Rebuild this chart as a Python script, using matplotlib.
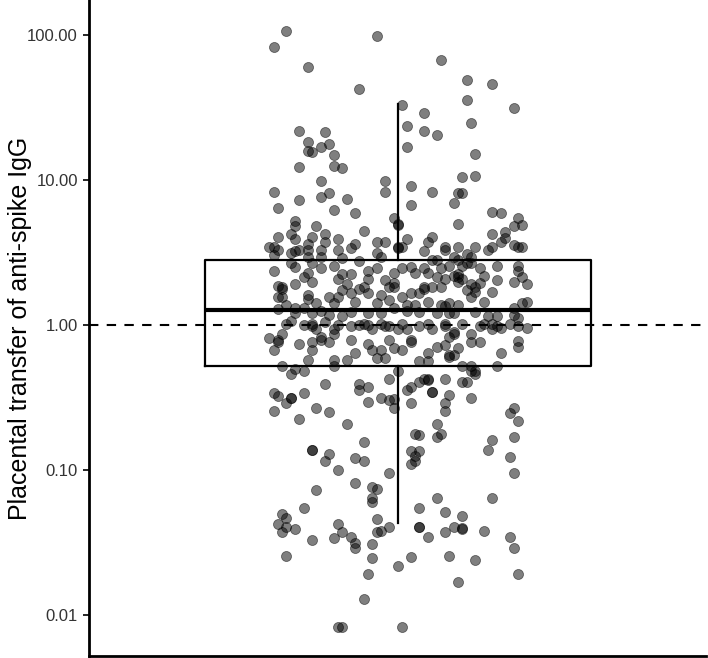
import numpy as np
import matplotlib
matplotlib.use("Agg")
import matplotlib.pyplot as plt

plt.rcParams['font.family'] = ['Liberation Sans', 'DejaVu Sans']

# each point: (horizontal jitter offset, log10 of placental transfer ratio)
# values, grouped by region of the plot
upper = [
    (-0.26, 2.03), (-0.29, 1.92), (-0.21, 1.78), (-0.05, 1.99), (-0.09, 1.63), (0.01, 1.52), (0.06, 1.46),
    (0.02, 1.37), (0.06, 1.34), (0.02, 1.23), (-0.23, 1.34), (-0.17, 1.33), (-0.21, 1.26), (-0.21, 1.20),
    (-0.20, 1.19), (-0.18, 1.23), (-0.16, 1.25), (-0.15, 1.17), (-0.23, 1.09), (-0.15, 1.10), (-0.13, 1.08),
    (-0.18, 0.99), (-0.29, 0.92), (-0.16, 0.91), (-0.18, 0.88), (-0.23, 0.86), (-0.12, 0.87), (-0.03, 0.99),
    (-0.03, 0.92), (0.03, 0.96), (0.08, 0.92), (0.10, 1.83), (0.16, 1.69), (0.22, 1.66), (0.16, 1.55),
    (0.27, 1.50), (0.17, 1.39), (0.09, 1.31), (0.18, 1.18), (0.15, 1.02), (0.18, 1.03), (0.14, 0.91),
    (0.15, 0.91),
]

middle_left = [
    (-0.28, 0.81), (-0.15, 0.79), (-0.10, 0.77), (-0.24, 0.72), (-0.24, 0.68), (-0.25, 0.63), (-0.24, 0.59),
    (-0.28, 0.61), (-0.19, 0.68), (-0.20, 0.61), (-0.17, 0.63), (-0.08, 0.65), (-0.14, 0.59), (-0.17, 0.57),
    (-0.21, 0.56), (-0.24, 0.51), (-0.25, 0.50), (-0.29, 0.54), (-0.30, 0.54), (-0.28, 0.52), (-0.29, 0.48),
    (-0.23, 0.52), (-0.21, 0.52), (-0.18, 0.52), (-0.14, 0.52), (-0.11, 0.53), (-0.10, 0.56), (-0.05, 0.57),
    (-0.03, 0.57), (-0.05, 0.50), (-0.04, 0.47), (-0.01, 0.74), (0.00, 0.69), (0.00, 0.54), (-0.21, 0.47),
    (-0.18, 0.47), (-0.25, 0.43), (-0.24, 0.40), (-0.20, 0.43), (-0.15, 0.41), (-0.13, 0.46), (-0.09, 0.44),
    (-0.29, 0.37), (-0.22, 0.33), (-0.21, 0.36), (-0.18, 0.39), (-0.20, 0.30), (-0.14, 0.32), (-0.13, 0.35),
    (-0.11, 0.35), (-0.07, 0.37), (-0.05, 0.39), (-0.01, 0.36), (-0.03, 0.31), (-0.07, 0.32), (-0.28, 0.27),
    (-0.27, 0.26), (-0.27, 0.25), (-0.24, 0.28), (-0.28, 0.19), (-0.27, 0.19), (-0.21, 0.21), (-0.21, 0.18),
    (-0.12, 0.28), (-0.13, 0.24), (-0.11, 0.22), (-0.09, 0.25), (-0.08, 0.26), (-0.07, 0.22), (-0.04, 0.21),
    (-0.02, 0.26), (-0.01, 0.29), (-0.16, 0.19), (-0.15, 0.15), (-0.19, 0.15), (-0.14, 0.19), (-0.10, 0.16),
    (-0.05, 0.15), (-0.02, 0.17), (-0.26, 0.14), (-0.28, 0.11), (-0.24, 0.12), (-0.24, 0.08), (-0.22, 0.12),
    (-0.20, 0.08), (-0.18, 0.10), (-0.16, 0.07), (-0.13, 0.06), (-0.11, 0.09), (-0.07, 0.08), (-0.04, 0.08),
    (-0.01, 0.12), (-0.26, 0.01), (-0.25, 0.03), (-0.22, 0.00), (-0.20, 0.01), (-0.20, -0.01), (-0.19, -0.03),
    (-0.17, 0.02), (-0.15, -0.03), (-0.14, 0.00), (-0.11, -0.01), (-0.09, 0.00), (-0.08, 0.01), (-0.07, 0.00),
    (-0.06, -0.03), (-0.04, 0.01), (-0.03, -0.01), (-0.02, -0.01), (0.00, -0.03), (-0.27, -0.06), (-0.28, -0.10),
    (-0.30, -0.09), (-0.28, -0.12), (-0.29, -0.17), (-0.23, -0.13), (-0.20, -0.12), (-0.20, -0.17), (-0.18, -0.08),
    (-0.18, -0.10), (-0.16, -0.12), (-0.15, -0.06), (-0.11, -0.10), (-0.10, -0.19), (-0.07, -0.13), (-0.06, -0.17),
    (-0.04, -0.17), (-0.02, -0.10), (-0.01, -0.16), (-0.03, -0.23), (-0.05, -0.23), (-0.12, -0.24), (-0.15, -0.24),
    (-0.15, -0.28), (-0.21, -0.24), (-0.24, -0.30), (-0.25, -0.34), (-0.22, -0.32), (-0.27, -0.28), (-0.17, -0.41),
    (-0.09, -0.41), (-0.07, -0.43), (-0.09, -0.45), (-0.29, -0.47), (-0.25, -0.50), (-0.22, -0.47), (-0.28, -0.49),
    (0.00, -0.32), (-0.02, -0.37), (-0.04, -0.50),
]

middle_right = [
    (0.03, 0.83), (0.13, 0.84), (0.14, 0.70), (0.22, 0.78), (0.24, 0.77), (0.28, 0.74), (0.27, 0.68),
    (0.29, 0.69), (0.22, 0.63), (0.25, 0.64), (0.25, 0.60), (0.24, 0.57), (0.27, 0.55), (0.28, 0.54),
    (0.29, 0.54), (0.22, 0.54), (0.21, 0.52), (0.18, 0.54), (0.14, 0.54), (0.11, 0.54), (0.11, 0.52),
    (0.08, 0.61), (0.07, 0.57), (0.06, 0.51), (0.02, 0.59), (0.00, 0.53), (0.01, 0.54), (0.00, 0.70),
    (0.16, 0.49), (0.17, 0.47), (0.08, 0.45), (0.09, 0.45), (0.13, 0.47), (0.14, 0.45), (0.15, 0.41),
    (0.16, 0.43), (0.17, 0.43), (0.19, 0.39), (0.20, 0.34), (0.23, 0.41), (0.28, 0.41), (0.28, 0.37),
    (0.29, 0.33), (0.30, 0.28), (0.27, 0.30), (0.23, 0.31), (0.22, 0.23), (0.01, 0.39), (0.03, 0.40),
    (0.04, 0.36), (0.06, 0.39), (0.07, 0.36), (0.09, 0.33), (0.10, 0.39), (0.12, 0.41), (0.11, 0.32),
    (0.13, 0.34), (0.14, 0.33), (0.14, 0.35), (0.14, 0.30), (0.15, 0.32), (0.17, 0.28), (0.18, 0.26),
    (0.19, 0.29), (0.16, 0.24), (0.18, 0.23), (0.17, 0.19), (0.10, 0.26), (0.08, 0.26), (0.06, 0.26),
    (0.06, 0.25), (0.05, 0.22), (0.03, 0.22), (0.01, 0.19), (-0.01, 0.26), (0.07, 0.16), (0.10, 0.14),
    (0.11, 0.13), (0.12, 0.15), (0.14, 0.14), (0.20, 0.16), (0.04, 0.14), (0.02, 0.14), (0.02, 0.10),
    (0.05, 0.09), (0.09, 0.08), (0.12, 0.08), (0.13, 0.08), (0.18, 0.09), (0.21, 0.06), (0.23, 0.06),
    (0.27, 0.12), (0.28, 0.05), (0.27, 0.07), (0.29, 0.15), (0.30, 0.16), (0.01, 0.01), (0.02, -0.03),
    (0.05, -0.01), (0.07, 0.01), (0.08, -0.03), (0.11, 0.01), (0.11, -0.01), (0.13, -0.05), (0.15, 0.01),
    (0.17, -0.06), (0.19, -0.01), (0.20, 0.01), (0.22, -0.03), (0.22, 0.01), (0.23, -0.01), (0.24, -0.02),
    (0.26, 0.01), (0.28, -0.01), (0.30, -0.02), (0.03, -0.10), (0.03, -0.12), (0.01, -0.17), (0.12, -0.08),
    (0.13, -0.06), (0.17, -0.12), (0.19, -0.12), (0.09, -0.15), (0.11, -0.14), (0.14, -0.16), (0.12, -0.21),
    (0.12, -0.22), (0.13, -0.21), (0.07, -0.19), (0.05, -0.25), (0.07, -0.25), (0.24, -0.19), (0.28, -0.15),
    (0.28, -0.11), (0.15, -0.28), (0.17, -0.28), (0.23, -0.28), (0.17, -0.32), (0.18, -0.32), (0.18, -0.34),
    (0.06, -0.37), (0.07, -0.38), (0.05, -0.39), (0.07, -0.37), (0.11, -0.37), (0.15, -0.39), (0.16, -0.39),
    (0.02, -0.45), (0.03, -0.43), (0.08, -0.46), (0.08, -0.46), (0.12, -0.48), (0.17, -0.50),
]

lower_left = [
    (-0.25, -0.50), (-0.26, -0.54), (-0.29, -0.59), (-0.23, -0.65), (-0.19, -0.57), (-0.16, -0.60),
    (-0.12, -0.68), (-0.07, -0.53), (-0.02, -0.52), (-0.01, -0.51), (-0.01, -0.57), (0.03, -0.54),
    (0.04, -0.75), (-0.08, -0.81), (0.03, -0.87), (0.05, -0.87), (0.04, -0.90), (0.03, -0.96),
    (0.04, -0.94), (-0.20, -0.86), (-0.20, -0.86), (-0.16, -0.89), (-0.17, -0.94), (-0.10, -0.92),
    (-0.08, -0.94), (-0.14, -1.00), (-0.02, -1.02), (-0.10, -1.09), (-0.19, -1.14), (-0.06, -1.12),
    (-0.05, -1.13), (-0.06, -1.19), (-0.06, -1.22), (-0.22, -1.26), (0.05, -1.26), (-0.27, -1.30),
    (-0.26, -1.33), (-0.28, -1.37), (-0.26, -1.39), (-0.27, -1.43), (-0.24, -1.41), (-0.20, -1.48),
    (-0.14, -1.37), (-0.13, -1.43), (-0.11, -1.46), (-0.15, -1.47), (-0.10, -1.50), (-0.10, -1.54),
    (-0.05, -1.34), (-0.05, -1.43), (-0.04, -1.42), (-0.02, -1.39), (-0.06, -1.51), (-0.06, -1.61),
    (0.05, -1.39), (0.05, -1.39), (0.07, -1.46), (0.03, -1.60), (0.00, -1.66), (-0.26, -1.59),
    (-0.07, -1.72), (-0.08, -1.89), (-0.14, -2.08), (-0.13, -2.08), (0.01, -2.08),
]

lower_right = [
    (0.11, -0.54), (0.11, -0.59), (0.27, -0.57), (0.26, -0.61), (0.28, -0.66), (0.09, -0.68),
    (0.09, -0.77), (0.10, -0.75), (0.05, -0.76), (0.22, -0.79), (0.21, -0.86), (0.27, -0.77),
    (0.26, -0.91), (0.27, -1.02), (0.09, -1.19), (0.22, -1.19), (0.11, -1.29), (0.15, -1.32),
    (0.13, -1.39), (0.15, -1.41), (0.15, -1.40), (0.11, -1.43), (0.20, -1.42), (0.26, -1.46),
    (0.27, -1.54), (0.12, -1.59), (0.18, -1.62), (0.28, -1.72), (0.14, -1.77),
]

# box summary (ratio scale)
box_q1 = 0.52
box_median = 1.26
box_q3 = 2.81
whisker_low = 0.043
whisker_high = 33.4

tick_values = [0.01, 0.1, 1, 10, 100]
tick_labels = ["0.01", "0.10", "1.00", "10.00", "100.00"]

all_points = np.array(upper + middle_left + middle_right + lower_left + lower_right)
xs = 1 + all_points[:, 0]
ratio = 10 ** all_points[:, 1]

fig = plt.figure(figsize=(7.08, 6.58), dpi=100)
ax = fig.add_axes([89 / 708, 2 / 658, 617 / 708, 656 / 658])

stats = [dict(med=box_median, q1=box_q1, q3=box_q3,
              whislo=whisker_low, whishi=whisker_high, fliers=[])]
ax.bxp(stats, positions=[1], widths=0.9, showcaps=False, showfliers=False,
       boxprops=dict(color="black", linewidth=1.6),
       whiskerprops=dict(color="black", linewidth=1.6),
       medianprops=dict(color="black", linewidth=3.0),
       zorder=1)

ax.scatter(xs, ratio, s=52, c="black", alpha=0.5, edgecolors="black",
           linewidths=0.6, zorder=2)

ax.axhline(1.0, color="black", linewidth=1.5, linestyle=(0, (4.5, 4)), zorder=3)

ax.set_yscale("log")
ax.set_ylim(10 ** (-331 / 145), 10 ** (325 / 145))
ax.set_xlim(1 - 309 / 429, 1 + 308 / 429)

ax.set_yticks(tick_values)
ax.set_yticklabels(tick_labels)
ax.yaxis.set_minor_locator(matplotlib.ticker.NullLocator())
ax.set_xticks([])
ax.tick_params(axis="y", length=4, width=1.2, color="black", labelsize=12,
               labelcolor="#333333", pad=4)

for side in ["top", "right"]:
    ax.spines[side].set_visible(False)
for side in ["left", "bottom"]:
    ax.spines[side].set_linewidth(2.0)

ax.set_ylabel("Placental transfer of anti-spike IgG", fontsize=18, color="black")
ax.yaxis.set_label_coords(-0.092, 0.5)

fig.savefig("out.png", dpi=100)
